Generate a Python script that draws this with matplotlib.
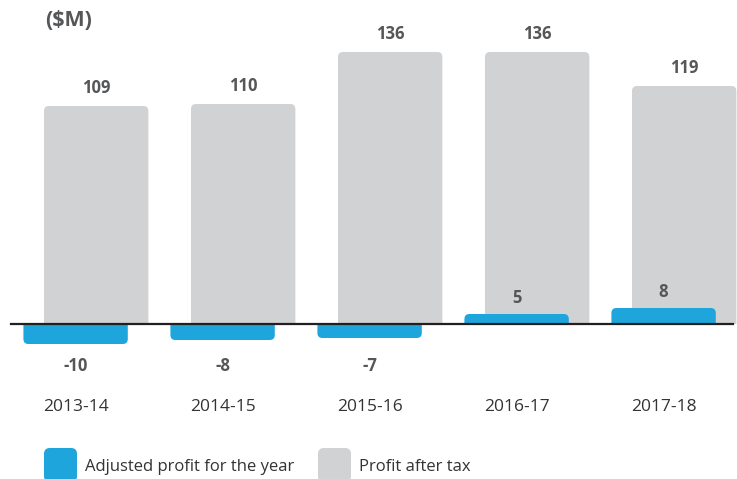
import matplotlib
matplotlib.use("Agg")
import matplotlib.pyplot as plt
import numpy as np
from matplotlib.patches import FancyBboxPatch, Rectangle

plt.rcParams['font.family'] = ['Open Sans', 'DejaVu Sans']

years = ['2013-14', '2014-15', '2015-16', '2016-17', '2017-18']
adjusted = [-10, -8, -7, 5, 8]
after_tax = [109, 110, 136, 136, 119]

blue = '#1ea5dc'
grey = '#d1d2d4'
label_col = '#555658'
year_col = '#333333'

W, H = 737, 479
fig = plt.figure(figsize=(W / 100, H / 100), dpi=100)
ax = fig.add_axes([0, 0, 1, 1])
ax.axis('off')

# pixel layout: 147 px per category, 2 px per $M, baseline at 324 px from top
px_x = 147.0
px_y = 2.0
x0 = 75.6
base = 324.0
ax.set_xlim(-x0 / px_x, (W - x0) / px_x)
ax.set_ylim(-(H - base) / px_y, base / px_y)

x = np.arange(len(years))
width = 0.71
offset = 0.14


def rounded(bars, color, z):
    # swap the plain rectangles for ones with rounded outer corners
    r = 5 / px_x
    for b in bars:
        bx, by = b.get_x(), b.get_y()
        bw, bh = b.get_width(), b.get_height()
        b.set_visible(False)
        ext = r * px_x / px_y
        if bh >= 0:
            y_lo, y_hi = by - ext, by + bh
            clip = Rectangle((bx - 1, 0), bw + 2, 1000, transform=ax.transData)
        else:
            y_lo, y_hi = by + bh, by + ext
            clip = Rectangle((bx - 1, -1000), bw + 2, 1000, transform=ax.transData)
        p = FancyBboxPatch((bx, y_lo), bw, y_hi - y_lo,
                           boxstyle=f"round,pad=0,rounding_size={r}",
                           mutation_aspect=px_x / px_y,
                           facecolor=color, edgecolor='none', zorder=z)
        ax.add_patch(p)
        p.set_clip_path(clip)


g = ax.bar(x + offset, after_tax, width, color=grey)
rounded(g, grey, 1)
b = ax.bar(x, adjusted, width, color=blue)
rounded(b, blue, 2)

ax.axhline(0, xmin=11 / W, xmax=733 / W, color='#231f20', lw=1.6, zorder=3)

for i in range(len(years)):
    ax.text(x[i] + offset, after_tax[i] + 9, str(after_tax[i]), ha='center', va='center',
            fontsize=12, fontweight='bold', color=label_col)
    v = adjusted[i]
    ly = v + 8 if v > 0 else -21
    ax.text(x[i], ly, str(v), ha='center', va='center',
            fontsize=12, fontweight='bold', color=label_col)
    ax.text(x[i], -41.5, years[i], ha='center', va='center',
            fontsize=12.5, color=year_col)

fig.text(45 / W, 1 - 20 / H, '($M)', ha='left', va='center',
         fontsize=15.5, fontweight='bold', color=label_col)

# legend
items = [(blue, 'Adjusted profit for the year', 44), (grey, 'Profit after tax', 318)]
for col, txt, lx in items:
    sq = FancyBboxPatch((lx / W, 1 - 482 / H), 33 / W, 34 / H,
                        boxstyle="round,pad=0,rounding_size=0.008",
                        mutation_aspect=W / H,
                        transform=fig.transFigure, facecolor=col, edgecolor='none')
    fig.add_artist(sq)
    fig.text((lx + 41) / W, 1 - 467 / H, txt, ha='left', va='center',
             fontsize=12, color=year_col)

fig.savefig('out.png', dpi=100)
